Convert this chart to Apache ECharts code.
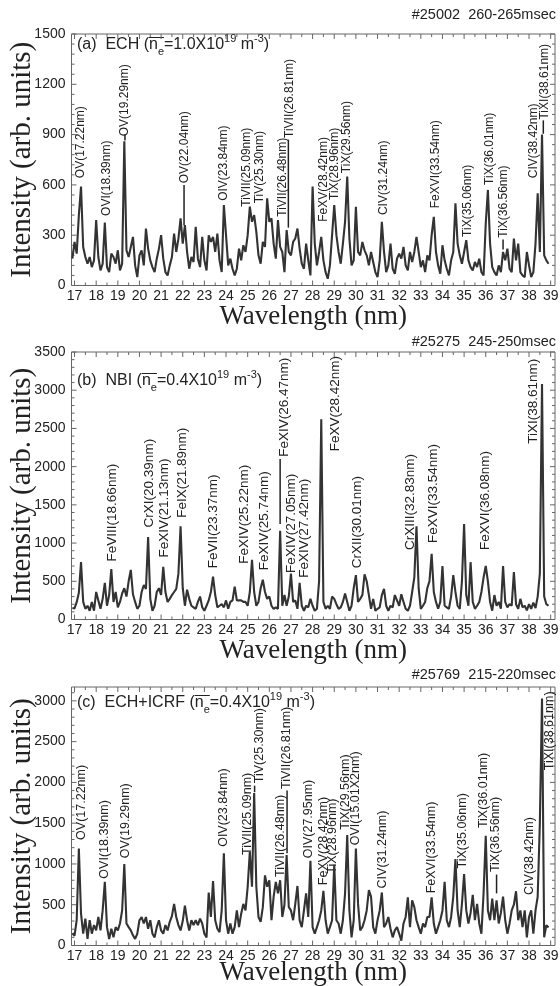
<!DOCTYPE html>
<html>
<head>
<meta charset="utf-8">
<title>EUV spectra</title>
<script src="https://cdn.jsdelivr.net/npm/echarts@6/dist/echarts.min.js"></script>
<style>
    html, body { margin: 0; padding: 0; background: #fff; }
    #main { width: 560px; height: 986px; }
</style>
</head>
<body>
<div id="main"></div>
<script>
// sampled spectra: first wavelength and step (nm)
var lamStart = 16.9, lamStep = 0.1;

// (a) ECH
var specA = [160,260,190,420,590,230,170,130,170,110,150,390,170,90,130,375,110,80,190,170,
    130,210,90,130,860,210,170,230,290,120,50,180,210,120,340,220,150,110,80,160,
    220,300,160,80,60,120,170,310,200,280,400,250,360,200,100,170,140,350,160,110,
    290,150,90,300,260,290,200,310,150,80,480,300,120,160,100,60,100,220,150,240,
    200,300,470,380,420,320,180,130,260,230,520,380,400,250,160,390,230,200,80,330,
    200,180,260,280,340,220,130,100,250,150,60,590,250,120,200,290,150,80,40,120,
    300,480,300,200,130,250,380,650,280,120,150,470,200,180,260,210,180,120,200,140,
    80,50,150,380,200,80,120,250,100,70,160,190,160,230,120,90,200,140,200,290,
    200,110,150,80,180,150,300,410,200,120,70,240,150,100,60,150,200,490,250,180,
    130,200,270,150,110,90,140,110,160,80,60,370,570,250,110,80,60,120,80,200,
    150,220,100,80,280,150,250,80,60,50,200,120,50,80,250,550,200,900,180,150,130];
// (b) NBI
var specB = [150,145,227,350,750,230,140,180,115,230,115,360,250,140,270,480,180,320,660,230,
    360,160,230,340,410,300,500,650,330,230,140,180,360,450,400,1080,270,115,180,360,
    410,320,690,360,230,270,320,360,400,600,1220,410,180,390,270,180,160,140,230,300,
    160,115,180,250,360,560,320,160,180,200,160,250,140,230,250,430,250,250,250,230,
    230,180,360,780,360,180,230,410,520,360,270,300,180,140,160,140,1160,180,320,180,
    300,600,230,250,140,480,180,115,180,160,270,180,115,140,500,2620,230,140,180,140,
    300,270,200,140,160,230,340,230,115,180,410,580,230,270,320,590,500,320,140,270,
    115,140,160,320,400,180,115,180,160,320,250,180,330,230,140,115,180,360,550,1220,
    410,140,180,230,410,500,860,360,230,140,230,700,180,160,140,300,580,360,180,140,
    500,1250,320,180,750,230,140,180,230,360,550,700,500,230,115,320,180,230,140,700,
    230,160,200,180,620,200,140,270,160,180,120,200,140,220,150,300,600,3080,300,200,180];
// (c) ECH+ICRF
var specC = [150,120,310,1190,390,145,330,80,310,145,250,185,350,185,430,780,225,80,205,100,
    225,185,270,430,1000,270,225,185,125,80,145,310,350,270,350,205,310,145,100,225,
    310,185,145,250,185,290,360,510,350,250,185,300,490,310,185,310,250,310,250,330,
    270,145,100,650,350,790,310,205,165,430,1130,310,145,270,145,225,430,225,390,510,
    430,720,1150,720,1870,720,350,290,470,860,720,800,310,600,780,640,800,350,500,1110,
    470,430,310,510,730,310,225,430,640,350,1040,225,145,225,310,430,670,310,145,225,
    310,990,310,270,145,310,640,1355,430,100,310,1190,510,185,225,310,430,680,600,225,
    145,310,430,650,225,270,350,205,100,185,225,145,60,270,350,590,225,555,470,310,
    225,145,270,225,350,350,590,270,145,225,310,430,780,310,225,350,600,1060,430,225,
    510,875,430,270,400,620,310,510,270,145,640,1345,430,310,575,310,555,270,400,600,
    310,145,270,430,500,665,310,430,225,430,100,350,430,145,430,600,1500,3030,100,250,220];

// axis ticks
var xTicks = [17,18,19,20,21,22,23,24,25,26,27,28,29,30,31,32,33,34,35,36,37,38,39];
var yTicksA = [0,300,600,900,1200,1500];
var yTicksB = [0,500,1000,1500,2000,2500,3000,3500];
var yTicksC = [0,500,1000,1500,2000,2500,3000];

// line labels: text, wavelength of the label, intensity at the label foot
var labelsA = ['OV(17.22nm)','OVI(18.39nm)','OV(19.29nm)','OV(22.04nm)','OIV(23.84nm)','TiVII(25.09nm)',
    'TiV(25.30nm)','TiVII(26.48nm)','TiVII(26.81nm)','FeXV(28.42nm)','TiX(28.96nm)','TiX(29.56nm)',
    'CIV(31.24nm)','FeXVI(33.54nm)','TiX(35.06nm)','TiX(36.01nm)','TiX(36.56nm)','CIV(38.42nm)','TiXI(38.61nm)'];
var labelXA = [17.3,18.47,19.33,22.08,23.87,24.95,25.55,26.6,26.92,28.5,29.0,29.58,31.3,33.68,35.15,36.2,36.82,38.2,38.72];
var labelYA = [640,415,890,610,505,470,490,410,880,380,510,670,420,460,290,600,285,640,990];
var leadA = [[19.33,900,865],[22.06,600,360],[26.88,870,345],[36.8,275,215],[38.66,985,905]];

var labelsB = ['FeVIII(18.66nm)','CrXI(20.39nm)','FeXIV(21.13nm)','FeIX(21.89nm)','FeVII(23.37nm)',
    'FeXIV(25.22nm)','FeXIV(25.74nm)','FeXIV(26.47nm)','FeXIV(27.05nm)','FeXIV(27.42nm)','FeXV(28.42nm)',
    'CrXII(30.01nm)','CrXIII(32.83nm)','FeXVI(33.54nm)','FeXVI(36.08nm)','TiXI(38.61nm)'];
var labelXB = [18.73,20.45,21.15,21.97,23.4,24.83,25.78,26.68,27.02,27.6,29.05,30.05,32.52,33.58,36.0,38.2];
var labelYB = [760,1205,810,1330,670,730,645,2130,610,545,2200,670,910,1000,910,2300];
var leadB = [[26.5,2100,1250]];

var labelsC = ['OV(17.22nm)','OVI(18.39nm)','OV(19.29nm)','OIV(23.84nm)','TiVII(25.09nm)','TiV(25.30nm)',
    'TiVII(26.48nm)','TiVII(26.81nm)','OIV(27.95nm)','FeXV(28.42nm)','TiX(28.96nm)','TiX(29.56nm)',
    'OVI(15.01X2nm)','CIV(31.24nm)','FeXVI(33.54nm)','TiX(35.06nm)','TiX(36.01nm)','TiX(36.56nm)',
    'CIV(38.42nm)','TiXI(38.61nm)'];
var labelXC = [17.33,18.4,19.38,23.9,25.0,25.55,26.52,26.8,27.79,28.5,28.94,29.53,29.97,31.24,33.5,34.95,35.88,36.46,38.02,38.95];
var labelYC = [1295,820,1070,1210,1110,1990,840,1920,1070,740,880,1420,1230,700,640,945,1440,900,620,2150];
var leadC = [[25.32,1960,1880],[26.82,1900,1130],[36.5,870,640]];

var headers = ['#25002  260-265msec', '#25275  245-250msec', '#25769  215-220msec'];
var panelTags = ['(a)  ECH (', '(b)  NBI (', '(c)  ECH+ICRF ('];
var densities = ['=1.0X10', '=0.4X10', '=0.4X10'];

var sans = '"Liberation Sans", Arial, sans-serif';
var serif = '"Liberation Serif", "Times New Roman", serif';
var ink = '#222';

var panels = [
    {spec: specA, yTicks: yTicksA, yMax: 1500, sub: 5, top: 34, height: 251.5, labels: labelsA, lx: labelXA, ly: labelYA, lead: leadA, fs: 12, headY: 15, titleY: 45, nameGap: 18},
    {spec: specB, yTicks: yTicksB, yMax: 3500, sub: 5, top: 352, height: 267.5, labels: labelsB, lx: labelXB, ly: labelYB, lead: leadB, fs: 13.5, headY: 342, titleY: 381, nameGap: 18},
    {spec: specC, yTicks: yTicksC, yMax: 3170, sub: 5, top: 687, height: 258.5, labels: labelsC, lx: labelXC, ly: labelYC, lead: leadC, fs: 12.5, headY: 675, titleY: 703, nameGap: 14}
];
var xMin = 16.86, xMax = 39.2;

var chart = echarts.init(document.getElementById('main'));
var grid = [], xAxis = [], yAxis = [], series = [], graphic = [];

// width of a string, to place the bar over n_e
var ctx = document.createElement('canvas').getContext('2d');
function textWidth(s, size) {
    ctx.font = size + 'px ' + sans;
    return ctx.measureText(s).width;
}

panels.forEach(function (p, i) {
    grid.push({left: 71.5, right: 5, top: p.top, height: p.height, show: true,
        outerBoundsMode: 'none', containLabel: false,
        borderColor: '#666', borderWidth: 1, backgroundColor: 'transparent'});
    xAxis.push({
        gridIndex: i, type: 'value', min: xMin, max: xMax,
        axisLine: {show: false}, axisTick: {show: false}, splitLine: {show: false},
        axisLabel: {customValues: xTicks, fontSize: 14, margin: 4, color: ink, fontFamily: sans},
        name: 'Wavelength (nm)', nameLocation: 'middle', nameGap: p.nameGap, nameMoveOverlap: false,
        nameTextStyle: {fontFamily: serif, fontSize: 27, color: ink}
    });
    yAxis.push({
        gridIndex: i, type: 'value', min: 0, max: p.yMax,
        axisLine: {show: false}, axisTick: {show: false}, splitLine: {show: false},
        axisLabel: {customValues: p.yTicks, fontSize: 14, margin: 6, color: ink, fontFamily: sans,
            formatter: function (v) { return String(v); }},
        name: 'Intensity (arb. units)', nameLocation: 'middle', nameGap: 35, nameRotate: 90, nameMoveOverlap: false,
        nameTextStyle: {fontFamily: serif, fontSize: 29, color: ink}
    });

    // spectrum
    series.push({
        type: 'line', xAxisIndex: i, yAxisIndex: i, showSymbol: false, silent: true,
        lineStyle: {color: '#333', width: 2.1},
        data: p.spec.map(function (v, k) { return [+(lamStart + k * lamStep).toFixed(2), v]; })
    });

    // inward ticks on all four sides
    series.push({
        type: 'custom', xAxisIndex: i, yAxisIndex: i, silent: true, clip: false,
        data: [[xTicks[0], 0]],
        renderItem: function (params, api) {
            var kids = [];
            function seg(a, b) {
                kids.push({type: 'line', shape: {x1: a[0], y1: a[1], x2: b[0], y2: b[1]},
                    style: {stroke: '#666', lineWidth: 1}});
            }
            function xTick(x, len) {
                var b = api.coord([x, 0]), t = api.coord([x, p.yMax]);
                seg([b[0], b[1]], [b[0], b[1] - len]);
                seg([t[0], t[1]], [t[0], t[1] + len]);
            }
            function yTick(y, len) {
                var l = api.coord([xMin, y]), r = api.coord([xMax, y]);
                seg([l[0], l[1]], [l[0] + len, l[1]]);
                seg([r[0], r[1]], [r[0] - len, r[1]]);
            }
            xTicks.forEach(function (x, k) {
                xTick(x, 5);
                if (k < xTicks.length - 1) xTick(x + 0.5, 3);
            });
            p.yTicks.forEach(function (y, k) {
                yTick(y, 5);
                var step = (p.yTicks[1] - p.yTicks[0]) / p.sub;
                for (var s = 1; s < p.sub; s++) {
                    if (y + s * step < p.yMax) yTick(y + s * step, 3);
                }
            });
            return {type: 'group', children: kids};
        }
    });

    // leader lines
    series.push({
        type: 'custom', xAxisIndex: i, yAxisIndex: i, silent: true, clip: false,
        data: p.lead,
        encode: {x: 0, y: [1, 2]},
        renderItem: function (params, api) {
            var a = api.coord([api.value(0), api.value(1)]);
            var b = api.coord([api.value(0), api.value(2)]);
            return {type: 'line', shape: {x1: a[0], y1: a[1], x2: b[0], y2: b[1]},
                style: {stroke: '#222', lineWidth: 1.5}};
        }
    });

    // line identification labels, written upward
    series.push({
        type: 'custom', xAxisIndex: i, yAxisIndex: i, silent: true, clip: false,
        data: p.lx.map(function (x, k) { return [x, p.ly[k]]; }),
        renderItem: function (params, api) {
            var pt = api.coord([api.value(0), api.value(1)]);
            return {type: 'text', x: pt[0], y: pt[1], rotation: Math.PI / 2,
                style: {text: p.labels[params.dataIndex], align: 'left', verticalAlign: 'middle',
                    fontSize: p.fs, fontFamily: sans, fill: ink}};
        }
    });

    // shot number and time window
    graphic.push({type: 'text', x: 556, y: p.headY,
        style: {text: headers[i], align: 'right', verticalAlign: 'middle', fontSize: 14.5, fontFamily: sans, fill: ink}});

    // panel title with n_e bar, subscripts and superscripts
    var tx = 77;
    graphic.push({type: 'text', x: tx, y: p.titleY,
        style: {
            text: '{m|' + panelTags[i] + '}{m|n}{sb|e}{m|' + densities[i] + '}{sp|19}{m| m}{sp|-3}{m|)}',
            align: 'left', verticalAlign: 'middle',
            rich: {
                m: {fontSize: 16, fontFamily: sans, fill: ink, lineHeight: 24},
                sb: {fontSize: 11, fontFamily: sans, fill: ink, lineHeight: 11, verticalAlign: 'bottom'},
                sp: {fontSize: 11, fontFamily: sans, fill: ink, lineHeight: 13, verticalAlign: 'top'}
            }
        }});
    var bx = tx + textWidth(panelTags[i], 16);
    var bw = textWidth('n', 16) + textWidth('e', 11);
    graphic.push({type: 'line', shape: {x1: bx, y1: p.titleY - 7.5, x2: bx + bw, y2: p.titleY - 7.5},
        style: {stroke: ink, lineWidth: 1}});
});

chart.setOption({
    animation: false,
    backgroundColor: '#fff',
    grid: grid,
    xAxis: xAxis,
    yAxis: yAxis,
    series: series,
    graphic: graphic
});
</script>
</body>
</html>
